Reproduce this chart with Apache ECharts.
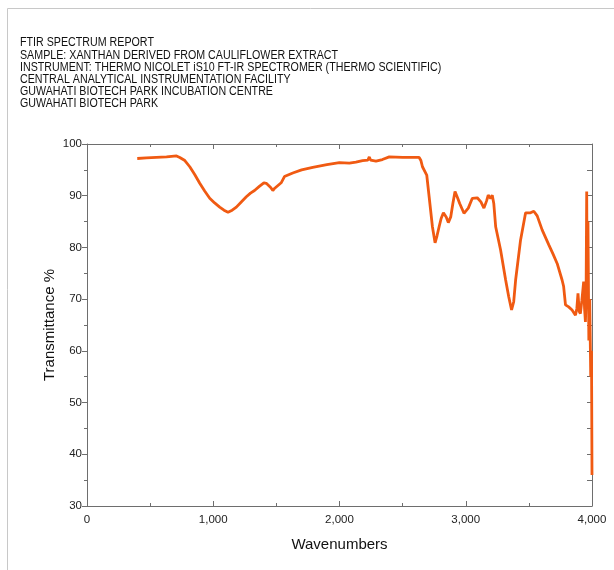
<!DOCTYPE html>
<html><head><meta charset="utf-8">
<script src="https://cdn.jsdelivr.net/npm/echarts@6/dist/echarts.min.js"></script>
<style>html,body{margin:0;padding:0;background:#fff}#c{width:614px;height:570px}</style>
</head><body><div id="c"></div>
<script>
const headerLines = [
  "FTIR SPECTRUM REPORT",
  "SAMPLE: XANTHAN DERIVED FROM CAULIFLOWER EXTRACT",
  "INSTRUMENT: THERMO NICOLET iS10 FT-IR SPECTROMER (THERMO SCIENTIFIC)",
  "CENTRAL ANALYTICAL INSTRUMENTATION FACILITY",
  "GUWAHATI BIOTECH PARK INCUBATION CENTRE",
  "GUWAHATI BIOTECH PARK"
];
const xTitle = "Wavenumbers";
const yTitle = "Transmittance %";
const wavenumbers = [
  398, 470, 550, 630, 709, 735, 775, 814, 853, 893, 932, 972, 1011, 1051, 1085, 1117,
  1150, 1183, 1222, 1262, 1295, 1327, 1365, 1401, 1420, 1433, 1455, 1472, 1485, 1499,
  1538, 1564, 1630, 1700, 1788, 1900, 1999, 2078, 2130, 2183, 2225, 2236, 2246, 2289,
  2340, 2394, 2500, 2631, 2645, 2657, 2691, 2710, 2736, 2757, 2772, 2789, 2805, 2823,
  2845, 2862, 2881, 2898, 2915, 2935, 2952, 2986, 3020, 3052, 3091, 3120, 3144, 3165,
  3178, 3197, 3210, 3222, 3237, 3276, 3316, 3340, 3363, 3380, 3395, 3434, 3474, 3513,
  3539, 3566, 3605, 3658, 3690, 3724, 3763, 3775, 3790, 3815, 3842, 3869, 3880, 3889,
  3899, 3908, 3920, 3934, 3941, 3948, 3953, 3958, 3962, 3968, 3975, 3982, 3990, 3996, 4000
];
const transmittance = [
  97.2, 97.3, 97.4, 97.5, 97.7, 97.4, 96.8, 95.6, 94.1, 92.4, 90.9, 89.5, 88.6, 87.8, 87.2, 86.8,
  87.2, 87.8, 88.8, 89.8, 90.5, 91.0, 91.8, 92.5, 92.4, 92.1, 91.6, 91.0, 91.4, 91.7,
  92.5, 93.7, 94.4, 95.0, 95.5, 96.0, 96.4, 96.3, 96.5, 96.8, 96.9, 97.5, 96.9, 96.7,
  97.0, 97.5, 97.4, 97.4, 96.8, 95.6, 94.0, 89.8, 84.0, 80.9, 82.2, 84.0, 85.6, 86.7,
  85.9, 84.8, 85.9, 88.5, 90.8, 89.6, 88.5, 86.6, 87.6, 89.5, 89.6, 88.8, 87.6, 89.0,
  90.1, 89.5, 90.1, 88.5, 84.0, 79.5, 73.7, 70.5, 67.9, 69.5, 73.7, 81.4, 86.7, 86.7,
  87.0, 86.1, 83.4, 80.5, 78.8, 76.9, 73.7, 72.5, 68.9, 68.5, 67.9, 66.9, 68.2, 71.1,
  67.6, 67.2, 69.8, 73.4, 68.2, 65.6, 70.0, 90.8, 72.0, 85.0, 62.0, 70.0, 55.0, 60.0, 36.0
];
const xTicks = { min: 0, max: 4000, step: 1000 };
const yTicks = { min: 30, max: 100, step: 10 };

const lineColor = "#f05a12";
const axisColor = "#6e6e6e";
const chart = echarts.init(document.getElementById('c'), null, { renderer: 'canvas' });
const fontFamily = "'Liberation Sans', Arial, sans-serif";
const graphics = [
  { type: 'line', shape: { x1: 7.5, y1: 8.5, x2: 614, y2: 8.5 }, style: { stroke: '#c8c8c8', lineWidth: 1 } },
  { type: 'line', shape: { x1: 7.5, y1: 8.5, x2: 7.5, y2: 570 }, style: { stroke: '#c8c8c8', lineWidth: 1 } }
];
headerLines.forEach((t, i) => {
  graphics.push({ type: 'text', x: 20, y: 37 + i * 12.2, scaleX: 0.89,
    style: { text: t, fill: '#111', font: '12px ' + fontFamily } });
});
const xBase = { type: 'value', min: xTicks.min, max: xTicks.max, interval: xTicks.step,
  splitLine: { show: false }, axisLine: { show: true, onZero: false, lineStyle: { color: axisColor, width: 1 } },
  axisTick: { show: true, inside: true, length: 5, lineStyle: { color: axisColor } },
  minorTick: { show: true, splitNumber: 2, length: 3, lineStyle: { color: axisColor } } };
const yBase = { type: 'value', min: yTicks.min, max: yTicks.max, interval: yTicks.step,
  splitLine: { show: false }, axisLine: { show: true, onZero: false, lineStyle: { color: axisColor, width: 1 } },
  axisTick: { show: true, inside: false, length: 5, lineStyle: { color: axisColor } },
  minorTick: { show: true, splitNumber: 2, length: 3, lineStyle: { color: axisColor } } };
chart.setOption({
  animation: false,
  backgroundColor: '#fff',
  grid: { left: 87, right: 22, top: 144, bottom: 64, containLabel: false },
  graphic: graphics,
  xAxis: [
    Object.assign({}, xBase, { position: 'bottom', name: xTitle, nameLocation: 'middle', nameGap: 31,
      nameTextStyle: { fontFamily, fontSize: 15, color: '#111' },
      axisLabel: { fontFamily, fontSize: 11.5, color: '#222', margin: 8,
        formatter: v => v.toLocaleString('en-US') } }),
    Object.assign({}, xBase, { position: 'top', axisLabel: { show: false } })
  ],
  yAxis: [
    Object.assign({}, yBase, { position: 'left', name: yTitle, nameLocation: 'middle', nameGap: 30,
      nameMoveOverlap: false,
      nameTextStyle: { fontFamily, fontSize: 15, color: '#111' },
      axisLabel: { fontFamily, fontSize: 11.5, color: '#222', margin: 5 } }),
    Object.assign({}, yBase, { position: 'right', axisLabel: { show: false },
      axisTick: { show: true, inside: true, length: 5, lineStyle: { color: axisColor } },
      minorTick: { show: true, splitNumber: 2, length: 5, lineStyle: { color: axisColor } } })
  ],
  series: [{
    type: 'line', xAxisIndex: 0, yAxisIndex: 0, showSymbol: false, smooth: false,
    lineStyle: { color: lineColor, width: 2.8 },
    data: wavenumbers.map((w, i) => [w, transmittance[i]])
  }]
});
</script></body></html>
